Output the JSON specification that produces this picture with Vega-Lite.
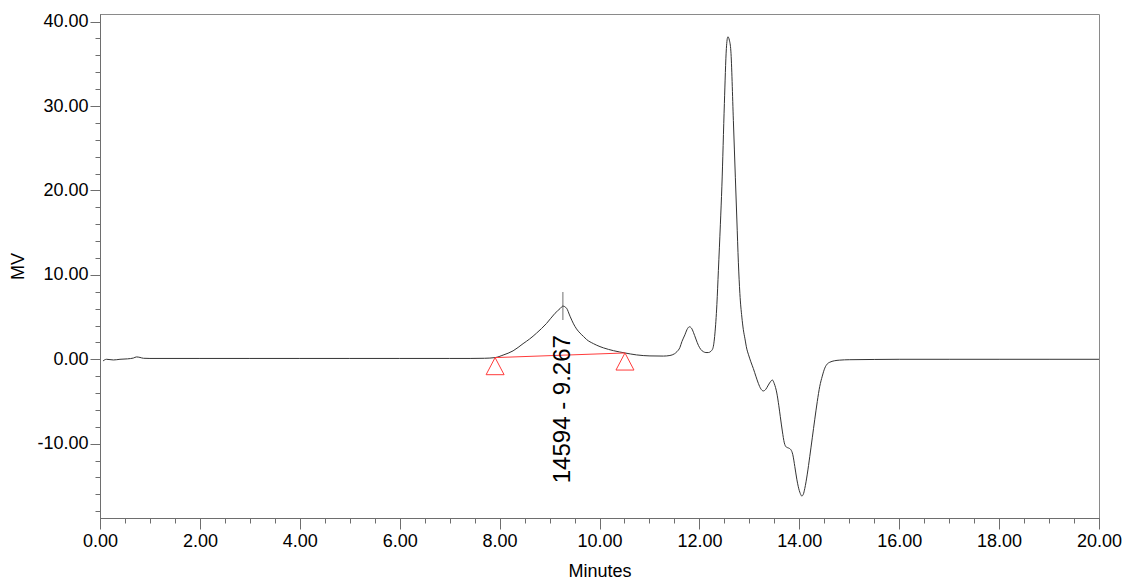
{
  "$schema": "https://vega.github.io/schema/vega-lite/v6.json",
  "width": 999,
  "height": 504,
  "autosize": {"type": "none"},
  "padding": {"left": 100, "top": 14, "right": 26, "bottom": 63},
  "background": "white",
  "datasets": {
    "trace": [
      {"minutes": 0.06, "mv": -0.2}, {"minutes": 0.13, "mv": 0.0}, {"minutes": 0.27, "mv": -0.08},
      {"minutes": 0.4, "mv": 0.0}, {"minutes": 0.55, "mv": 0.05}, {"minutes": 0.67, "mv": 0.15},
      {"minutes": 0.73, "mv": 0.28}, {"minutes": 0.8, "mv": 0.22}, {"minutes": 0.87, "mv": 0.12},
      {"minutes": 1.0, "mv": 0.1}, {"minutes": 2.0, "mv": 0.1}, {"minutes": 3.0, "mv": 0.1},
      {"minutes": 4.0, "mv": 0.1}, {"minutes": 5.0, "mv": 0.1}, {"minutes": 6.0, "mv": 0.1},
      {"minutes": 7.0, "mv": 0.1}, {"minutes": 7.41, "mv": 0.1}, {"minutes": 7.7, "mv": 0.12},
      {"minutes": 7.91, "mv": 0.2}, {"minutes": 8.07, "mv": 0.5}, {"minutes": 8.27, "mv": 1.0},
      {"minutes": 8.47, "mv": 1.85}, {"minutes": 8.6, "mv": 2.4}, {"minutes": 8.74, "mv": 3.1},
      {"minutes": 8.94, "mv": 4.25}, {"minutes": 9.11, "mv": 5.45}, {"minutes": 9.21, "mv": 6.0},
      {"minutes": 9.267, "mv": 6.3}, {"minutes": 9.34, "mv": 6.05}, {"minutes": 9.41, "mv": 5.1},
      {"minutes": 9.48, "mv": 4.2}, {"minutes": 9.54, "mv": 3.6}, {"minutes": 9.61, "mv": 3.1},
      {"minutes": 9.68, "mv": 2.7}, {"minutes": 9.74, "mv": 2.35}, {"minutes": 9.88, "mv": 1.85},
      {"minutes": 10.01, "mv": 1.5}, {"minutes": 10.08, "mv": 1.35}, {"minutes": 10.28, "mv": 1.02},
      {"minutes": 10.51, "mv": 0.75}, {"minutes": 10.74, "mv": 0.52}, {"minutes": 11.01, "mv": 0.4},
      {"minutes": 11.28, "mv": 0.38}, {"minutes": 11.41, "mv": 0.45}, {"minutes": 11.5, "mv": 0.65},
      {"minutes": 11.55, "mv": 0.9}, {"minutes": 11.61, "mv": 1.4}, {"minutes": 11.65, "mv": 2.1},
      {"minutes": 11.71, "mv": 2.9}, {"minutes": 11.75, "mv": 3.5}, {"minutes": 11.8, "mv": 3.85},
      {"minutes": 11.84, "mv": 3.7}, {"minutes": 11.88, "mv": 3.2}, {"minutes": 11.93, "mv": 2.4},
      {"minutes": 11.98, "mv": 1.65}, {"minutes": 12.03, "mv": 1.15}, {"minutes": 12.08, "mv": 0.9},
      {"minutes": 12.13, "mv": 0.8}, {"minutes": 12.18, "mv": 0.8}, {"minutes": 12.23, "mv": 0.95},
      {"minutes": 12.27, "mv": 1.3}, {"minutes": 12.31, "mv": 3.0}, {"minutes": 12.35, "mv": 6.5},
      {"minutes": 12.38, "mv": 10.5}, {"minutes": 12.42, "mv": 16.0}, {"minutes": 12.45, "mv": 20.5},
      {"minutes": 12.5, "mv": 30.3}, {"minutes": 12.54, "mv": 36.8}, {"minutes": 12.57, "mv": 38.2},
      {"minutes": 12.6, "mv": 37.8}, {"minutes": 12.63, "mv": 36.5}, {"minutes": 12.68, "mv": 28.3},
      {"minutes": 12.72, "mv": 21.5}, {"minutes": 12.75, "mv": 16.5}, {"minutes": 12.78, "mv": 11.5},
      {"minutes": 12.81, "mv": 7.8}, {"minutes": 12.85, "mv": 5.0}, {"minutes": 12.88, "mv": 3.5},
      {"minutes": 12.91, "mv": 2.5}, {"minutes": 12.95, "mv": 1.2}, {"minutes": 12.98, "mv": 0.6},
      {"minutes": 13.03, "mv": -0.3}, {"minutes": 13.08, "mv": -1.1}, {"minutes": 13.13, "mv": -2.0},
      {"minutes": 13.18, "mv": -2.85}, {"minutes": 13.23, "mv": -3.5}, {"minutes": 13.28, "mv": -3.75},
      {"minutes": 13.33, "mv": -3.55}, {"minutes": 13.38, "mv": -3.05}, {"minutes": 13.43, "mv": -2.6},
      {"minutes": 13.46, "mv": -2.45}, {"minutes": 13.5, "mv": -2.9}, {"minutes": 13.55, "mv": -4.0},
      {"minutes": 13.59, "mv": -5.5}, {"minutes": 13.62, "mv": -6.8}, {"minutes": 13.66, "mv": -8.5},
      {"minutes": 13.7, "mv": -9.9}, {"minutes": 13.74, "mv": -10.4}, {"minutes": 13.78, "mv": -10.5},
      {"minutes": 13.83, "mv": -10.7}, {"minutes": 13.87, "mv": -11.3}, {"minutes": 13.91, "mv": -12.7},
      {"minutes": 13.95, "mv": -14.2}, {"minutes": 13.98, "mv": -15.1}, {"minutes": 14.02, "mv": -15.9},
      {"minutes": 14.05, "mv": -16.2}, {"minutes": 14.08, "mv": -16.0}, {"minutes": 14.11, "mv": -15.3},
      {"minutes": 14.16, "mv": -13.6}, {"minutes": 14.21, "mv": -11.5}, {"minutes": 14.26, "mv": -9.3},
      {"minutes": 14.31, "mv": -7.1}, {"minutes": 14.36, "mv": -5.0}, {"minutes": 14.41, "mv": -3.2},
      {"minutes": 14.46, "mv": -2.0}, {"minutes": 14.51, "mv": -1.05}, {"minutes": 14.56, "mv": -0.55},
      {"minutes": 14.61, "mv": -0.35}, {"minutes": 14.7, "mv": -0.18}, {"minutes": 14.81, "mv": -0.1},
      {"minutes": 15.0, "mv": -0.05}, {"minutes": 15.5, "mv": -0.02}, {"minutes": 16.0, "mv": 0.0},
      {"minutes": 17.0, "mv": 0.0}, {"minutes": 18.0, "mv": 0.0}, {"minutes": 19.0, "mv": 0.0},
      {"minutes": 20.0, "mv": 0.0}
    ],
    "baseline": [
      {"minutes": 7.91, "mv": 0.2},
      {"minutes": 10.51, "mv": 0.75}
    ],
    "peak": [
      {"minutes": 9.267, "mv": 6.3, "label": "14594 - 9.267"}
    ]
  },
  "layer": [
    {
      "data": {"name": "trace"},
      "mark": {"type": "line", "color": "#333333", "strokeWidth": 1, "interpolate": "monotone"},
      "encoding": {
        "x": {
          "field": "minutes", "type": "quantitative",
          "scale": {"domain": [0, 20], "nice": false, "zero": false},
          "axis": {
            "orient": "bottom", "title": "Minutes", "format": ".2f",
            "values": [0, 2, 4, 6, 8, 10, 12, 14, 16, 18, 20],
            "tickSize": 11, "labelPadding": 3, "titlePadding": 12,
            "labelFlush": false, "labelOverlap": false
          }
        },
        "y": {
          "field": "mv", "type": "quantitative",
          "scale": {"domain": [-18.8, 40.9], "nice": false, "zero": false},
          "axis": {
            "orient": "left", "title": "MV",
            "labelExpr": "replace(format(datum.value, '.2f'), '\u2212', '-')",
            "values": [-10, 0, 10, 20, 30, 40],
            "tickSize": 10, "labelPadding": 2, "titlePadding": 9,
            "labelFlush": false, "labelOverlap": false
          }
        }
      }
    },
    {
      "data": {"name": "baseline"},
      "mark": {"type": "line", "color": "#ff3b3b", "strokeWidth": 1},
      "encoding": {
        "x": {
          "field": "minutes", "type": "quantitative",
          "scale": {"domain": [0, 20], "nice": false, "zero": false},
          "axis": {
            "orient": "bottom", "title": null, "labels": false, "tickSize": 5,
            "values": [0, 0.5, 1, 1.5, 2, 2.5, 3, 3.5, 4, 4.5, 5, 5.5, 6, 6.5, 7, 7.5, 8, 8.5, 9, 9.5, 10, 10.5, 11, 11.5, 12, 12.5, 13, 13.5, 14, 14.5, 15, 15.5, 16, 16.5, 17, 17.5, 18, 18.5, 19, 19.5, 20]
          }
        },
        "y": {
          "field": "mv", "type": "quantitative",
          "scale": {"domain": [-18.8, 40.9], "nice": false, "zero": false},
          "axis": {
            "orient": "left", "title": null, "labels": false, "tickSize": 5,
            "values": [-18, -16, -14, -12, -10, -8, -6, -4, -2, 0, 2, 4, 6, 8, 10, 12, 14, 16, 18, 20, 22, 24, 26, 28, 30, 32, 34, 36, 38, 40]
          }
        }
      }
    },
    {
      "data": {"name": "baseline"},
      "mark": {
        "type": "point", "shape": "M-1,1.9L0,0L1,1.9Z", "size": 324,
        "filled": false, "stroke": "#ff3b3b", "strokeWidth": 1, "opacity": 1
      },
      "encoding": {
        "x": {"field": "minutes", "type": "quantitative", "scale": {"domain": [0, 20], "nice": false, "zero": false}, "axis": null},
        "y": {"field": "mv", "type": "quantitative", "scale": {"domain": [-18.8, 40.9], "nice": false, "zero": false}, "axis": null}
      }
    },
    {
      "data": {"name": "peak"},
      "mark": {"type": "tick", "orient": "vertical", "size": 28, "thickness": 1, "color": "#333333"},
      "encoding": {
        "x": {"field": "minutes", "type": "quantitative", "scale": {"domain": [0, 20], "nice": false, "zero": false}, "axis": null},
        "y": {"field": "mv", "type": "quantitative", "scale": {"domain": [-18.8, 40.9], "nice": false, "zero": false}, "axis": null}
      }
    },
    {
      "data": {"name": "peak"},
      "mark": {
        "type": "text", "angle": 270, "align": "right", "baseline": "middle",
        "dx": -29, "fontSize": 24, "color": "#000000"
      },
      "encoding": {
        "x": {"field": "minutes", "type": "quantitative", "scale": {"domain": [0, 20], "nice": false, "zero": false}, "axis": null},
        "y": {"field": "mv", "type": "quantitative", "scale": {"domain": [-18.8, 40.9], "nice": false, "zero": false}, "axis": null},
        "text": {"field": "label", "type": "nominal"}
      }
    }
  ],
  "resolve": {"axis": {"x": "independent", "y": "independent"}},
  "config": {
    "font": "Liberation Sans",
    "view": {"stroke": "#8a8a8a", "strokeWidth": 1},
    "axis": {
      "grid": false,
      "domainColor": "#6e6e6e",
      "tickColor": "#6e6e6e",
      "labelColor": "#000000",
      "titleColor": "#000000",
      "labelFontSize": 18,
      "titleFontSize": 18,
      "titleFontWeight": "normal"
    }
  }
}
